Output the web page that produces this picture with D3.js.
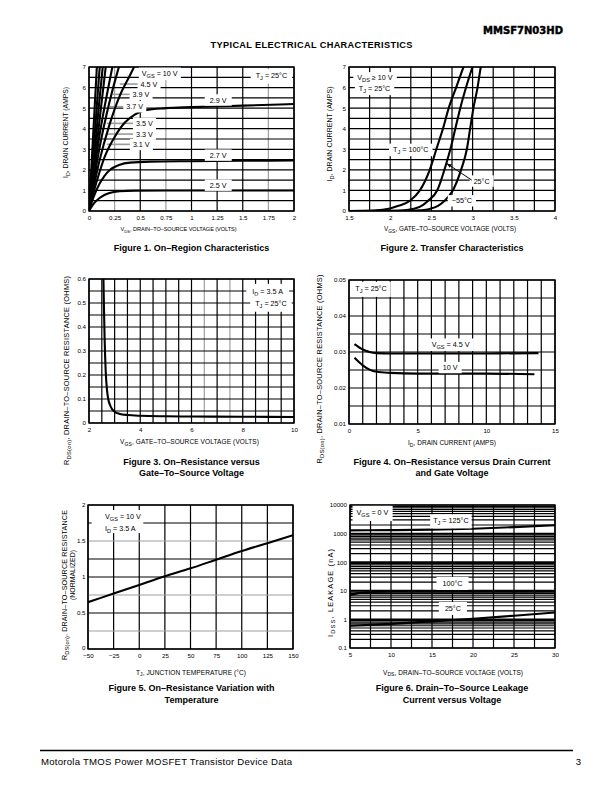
<!DOCTYPE html>
<html><head><meta charset="utf-8">
<script src="https://cdn.jsdelivr.net/npm/d3@7"></script>
<style>
body{margin:0;background:#fff}
svg{display:block}
</style></head><body>
<svg id="page" width="612" height="792" xmlns="http://www.w3.org/2000/svg"></svg>
<script>
// ================= DATA =================
// Figure 1 - On-Region Characteristics (VDS volts, ID amps)
const fig1XTicks = [0, 0.25, 0.5, 0.75, 1, 1.25, 1.5, 1.75, 2];
const fig1XTickLabels = ["0", "0.25", "0.5", "0.75", "1", "1.25", "1.5", "1.75", "2"];
const fig1YTicks = [0, 1, 2, 3, 4, 5, 6, 7];
const fig1Vgs10  = [[0,0],[0.08,7.3]];
const fig1Vgs45  = [[0,0],[0.1,6.7],[0.11,7.3]];
const fig1Vgs39  = [[0,0],[0.1,5.3],[0.14,7.3]];
const fig1Vgs37  = [[0,0],[0.1,4.3],[0.17,7.3]];
const fig1Vgs35  = [[0,0],[0.1,3.6],[0.2,6.3],[0.24,7.3]];
const fig1Vgs33  = [[0,0],[0.1,3.0],[0.2,5.3],[0.28,6.8],[0.31,7.3]];
const fig1Vgs31  = [[0,0],[0.1,2.4],[0.2,4.2],[0.3,5.6],[0.4,6.6],[0.47,7.3]];
const fig1Vgs29  = [[0,0],[0.05,1.0],[0.1,1.85],[0.15,2.6],[0.2,3.15],[0.25,3.6],[0.35,4.3],[0.45,4.7],[0.55,4.9],[0.75,5.0],[1,5.05],[1.5,5.12],[2,5.2]];
const fig1Vgs27  = [[0,0],[0.05,0.75],[0.1,1.3],[0.15,1.7],[0.2,1.98],[0.3,2.25],[0.4,2.35],[0.6,2.4],[1,2.42],[1.5,2.44],[2,2.46]];
const fig1Vgs25  = [[0,0],[0.05,0.38],[0.1,0.62],[0.15,0.78],[0.2,0.88],[0.3,0.96],[0.45,0.99],[0.75,1.0],[1.25,1.0],[2,1.0]];

// Figure 2 - Transfer Characteristics (VGS volts, ID amps)
const fig2XTicks = [1.5, 2, 2.5, 3, 3.5, 4];
const fig2XTickLabels = ["1.5", "2", "2.5", "3", "3.5", "4"];
const fig2YTicks = [0, 1, 2, 3, 4, 5, 6, 7];
const fig2Tj100 = [[1.5,0],[1.8,0.02],[2.0,0.12],[2.1,0.25],[2.24,0.5],[2.36,1.0],[2.48,2.0],[2.56,3.0],[2.64,4.0],[2.71,5.0],[2.8,6.0],[2.89,7.0],[2.92,7.3]];
const fig2Tj25  = [[1.5,0],[2.0,0.01],[2.2,0.05],[2.3,0.12],[2.4,0.3],[2.46,0.5],[2.57,1.0],[2.68,2.3],[2.73,3.0],[2.79,4.0],[2.85,5.0],[2.92,6.0],[3.0,7.0],[3.03,7.3]];
const fig2TjM55 = [[1.5,0],[2.2,0.0],[2.35,0.03],[2.48,0.1],[2.58,0.25],[2.66,0.5],[2.76,1.0],[2.86,2.0],[2.93,3.0],[2.97,4.0],[3.01,5.0],[3.06,6.0],[3.1,7.0],[3.12,7.3]];

// Figure 3 - RDS(on) vs VGS (VGS volts, ohms)
const fig3XTicks = [2, 4, 6, 8, 10];
const fig3YTicks = [0, 0.1, 0.2, 0.3, 0.4, 0.5, 0.6];
const fig3YTickLabels = ["0", "0.1", "0.2", "0.3", "0.4", "0.5", "0.6"];
const fig3Rds = [[2.56,0.62],[2.58,0.5],[2.61,0.35],[2.65,0.22],[2.7,0.14],[2.75,0.1],[2.82,0.075],[2.9,0.058],[3.0,0.047],[3.2,0.038],[3.5,0.033],[4,0.03],[5,0.028],[6,0.027],[8,0.026],[10,0.025]];

// Figure 4 - RDS(on) vs ID (amps, ohms)
const fig4XTicks = [0, 5, 10, 15];
const fig4YTicks = [0.01, 0.02, 0.03, 0.04, 0.05];
const fig4YTickLabels = ["0.01", "0.02", "0.03", "0.04", "0.05"];
const fig4Vgs45 = [[0.4,0.0322],[1,0.0307],[1.5,0.0300],[2,0.0297],[3,0.0296],[6,0.0296],[10,0.0296],[13.8,0.0297]];
const fig4Vgs10 = [[0.4,0.0284],[1,0.0263],[1.5,0.0251],[2,0.0245],[3,0.0242],[5,0.0240],[8,0.0240],[10,0.0240],[13.5,0.0238]];

// Figure 5 - normalized RDS(on) vs TJ (degC)
const fig5XTicks = [-50, -25, 0, 25, 50, 75, 100, 125, 150];
const fig5XTickLabels = ["\u221250", "\u221225", "0", "25", "50", "75", "100", "125", "150"];
const fig5YTicks = [0, 0.5, 1, 1.5, 2];
const fig5YTickLabels = ["0", "0.5", "1", "1.5", "2"];
const fig5Rnorm = [[-50,0.65],[-25,0.77],[0,0.89],[25,1.01],[50,1.12],[75,1.24],[100,1.36],[125,1.47],[150,1.58]];

// Figure 6 - IDSS leakage vs VDS (volts, nA)
const fig6XTicks = [5, 10, 15, 20, 25, 30];
const fig6YTicks = [0.1, 1, 10, 100, 1000, 10000];
const fig6YTickLabels = ["0.1", "1", "10", "100", "1000", "10000"];
const fig6Tj125 = [[5,1300],[10,1320],[15,1380],[20,1480],[25,1680],[30,1950]];
const fig6Tj100 = [[5,7.2],[6,8.3],[7.5,9.1],[10,9.4],[20,9.5],[30,9.6]];
const fig6Tj25  = [[5,0.6],[10,0.7],[15,0.85],[20,1.05],[25,1.35],[30,1.75]];

// ================= DRAWING =================
const FONT = "'Liberation Sans', Arial, Helvetica, sans-serif";
const LBL = 7.2; // in-plot label size
const svg = d3.select("#page");
svg.append("rect").attr("width", 612).attr("height", 792).attr("fill", "#fff");
const defs = svg.append("defs");
defs.append("marker").attr("id", "arr").attr("viewBox", "0 0 10 10").attr("refX", 9).attr("refY", 5)
  .attr("markerWidth", 5).attr("markerHeight", 5).attr("orient", "auto")
  .append("path").attr("d", "M0,1 L10,5 L0,9 z").attr("fill", "#000");

function rich(t, str, fs) {
  const parts = str.split(/(_\{[^}]*\})/).filter(s => s.length);
  let prevSub = false;
  parts.forEach(p => {
    const sub = p.startsWith("_{");
    const ts = t.append("tspan").text(sub ? p.slice(2, -1) : p);
    if (sub) ts.attr("font-size", fs * 0.78).attr("dy", fs * 0.3);
    else if (prevSub) ts.attr("dy", -fs * 0.3);
    prevSub = sub;
  });
}
function addText(g, o) {
  const fs = o.size || 6;
  const t = g.append("text").attr("font-family", o.family || FONT).attr("font-size", fs)
    .attr("font-weight", o.weight || "normal").attr("text-anchor", o.anchor || "middle").attr("fill", "#000");
  if (o.rotate) t.attr("transform", `translate(${o.x},${o.y}) rotate(-90)`);
  else t.attr("x", o.x).attr("y", o.y);
  rich(t, o.str, fs);
  if (o.len) t.attr("textLength", o.len).attr("lengthAdjust", o.adjust || "spacing");
  if (o.stroke) t.attr("stroke", "#000").attr("stroke-width", o.stroke);
  return t;
}

function chart(o) {
  const g = svg.append("g");
  const x = (o.xlog ? d3.scaleLog() : d3.scaleLinear()).domain(o.xd).range([o.x0, o.x1]);
  const y = (o.ylog ? d3.scaleLog() : d3.scaleLinear()).domain(o.yd).range([o.y1, o.y0]);
  const cid = "clip" + o.id;
  defs.append("clipPath").attr("id", cid).append("rect")
    .attr("x", o.x0).attr("y", o.y0).attr("width", o.x1 - o.x0).attr("height", o.y1 - o.y0);
  const grayX = o.grayX || [], grayY = o.grayY || [], majorY = o.majorY || [];
  g.append("g").selectAll("line").data(o.xgrid).join("line")
    .attr("x1", d => x(d)).attr("x2", d => x(d)).attr("y1", o.y0).attr("y2", o.y1)
    .attr("stroke", d => grayX.some(v => Math.abs(v - d) < 1e-9) ? "#a0a0a0" : "#000")
    .attr("stroke-width", 1.2);
  g.append("g").selectAll("line").data(o.ygrid).join("line")
    .attr("y1", d => y(d)).attr("y2", d => y(d)).attr("x1", o.x0).attr("x2", o.x1)
    .attr("stroke", d => grayY.some(v => Math.abs(v - d) < 1e-9) ? "#a0a0a0" : "#000")
    .attr("stroke-width", d => majorY.some(v => Math.abs(v / d - 1) < 1e-6) ? 1.9 : 1.2);
  g.append("rect").attr("x", o.x0).attr("y", o.y0).attr("width", o.x1 - o.x0).attr("height", o.y1 - o.y0)
    .attr("fill", "none").attr("stroke", "#000").attr("stroke-width", 1.4);
  // axes (labels only)
  const fmt = (vals, labs) => d => labs ? labs[vals.findIndex(v => Math.abs(v - d) < 1e-9)] : String(d);
  const ax = g.append("g").attr("transform", `translate(0,${o.y1})`)
    .call(d3.axisBottom(x).tickValues(o.xt).tickFormat(fmt(o.xt, o.xtl)).tickSize(0).tickPadding(o.xpad || 4.3));
  ax.select(".domain").remove();
  ax.attr("font-family", FONT).attr("font-size", 6.2);
  const ay = g.append("g").attr("transform", `translate(${o.x0},0)`)
    .call(d3.axisLeft(y).tickValues(o.yt).tickFormat(fmt(o.yt, o.ytl)).tickSize(0).tickPadding(o.ypad || 3));
  ay.select(".domain").remove();
  ay.attr("font-family", FONT).attr("font-size", 6.2);
  if (o.yLiftFirst) ay.selectAll(".tick text").filter((d, i) => i === 0).attr("dy", "0.05em");
  // leaders (gray)
  (o.leaders || []).forEach(l => {
    g.append("line").attr("x1", x(l[0])).attr("x2", x(l[1])).attr("y1", y(l[2])).attr("y2", y(l[2]))
      .attr("stroke", "#9a9a9a").attr("stroke-width", 1.6);
  });
  // curves
  const line = d3.line().x(d => x(d[0])).y(d => y(d[1])).curve(d3.curveMonotoneX);
  g.append("g").attr("clip-path", `url(#${cid})`).selectAll("path").data(o.curves).join("path")
    .attr("d", line).attr("fill", "none").attr("stroke", "#000").attr("stroke-width", o.cw || 2.1)
    .attr("stroke-linejoin", "round");
  // boxes
  (o.boxes || []).forEach(b => {
    g.append("rect").attr("x", x(b[0])).attr("y", y(b[3])).attr("width", x(b[1]) - x(b[0]))
      .attr("height", y(b[2]) - y(b[3])).attr("fill", "#fff");
  });
  // labels with white backgrounds
  (o.labels || []).forEach(l => {
    const fs = l.size || LBL;
    const t = addText(g, { x: x(l.x), y: y(l.y) + fs * 0.36, str: l.t, size: fs, anchor: l.anchor || "middle" });
    if (!l.nobox) {
      const bb = t.node().getBBox();
      const px = l.px != null ? l.px : 3, py = l.py != null ? l.py : 1.2;
      g.insert("rect", () => t.node()).attr("x", bb.x - px).attr("y", bb.y - py)
        .attr("width", bb.width + 2 * px).attr("height", bb.height + 2 * py).attr("fill", "#fff");
    }
  });
  // axis titles
  (o.ylabels || []).forEach(l => addText(g, { x: l.x, y: l.y, str: l.t, size: l.size || 6.8, rotate: true, len: l.len }));
  addText(g, { x: o.xlabel.x, y: o.xlabel.y, str: o.xlabel.t, size: o.xlabel.size || 6.4, len: o.xlabel.len });
  o.title.forEach((t, i) => addText(g, { x: o.title.cx, y: o.title.y + i * 11.6, str: t, size: 9, weight: "bold" }));
  return { x, y, g };
}
function titleArr(lines, cx, y) { const a = lines.slice(); a.cx = cx; a.y = y; return a; }

// ---------- Figure 1 ----------
chart({
  id: 1, x0: 89, x1: 294, y0: 67, y1: 211, xd: [0, 2], yd: [0, 7],
  xgrid: d3.range(0, 2.001, 0.25), ygrid: d3.range(0, 7.001, 0.5), grayX: [0.25, 0.75, 1.75],
  xt: fig1XTicks, xtl: fig1XTickLabels, yt: fig1YTicks,
  curves: [fig1Vgs10, fig1Vgs45, fig1Vgs39, fig1Vgs37, fig1Vgs35, fig1Vgs33, fig1Vgs31, fig1Vgs29, fig1Vgs27, fig1Vgs25],
  leaders: [[0.30,0.51,6.17],[0.234,0.43,5.67],[0.205,0.37,5.07],[0.173,0.465,4.26],[0.173,0.465,3.74],[0.173,0.46,3.24]],
  labels: [
    { t: "V_{GS} = 10 V", x: 0.69, y: 6.7 },
    { t: "4.5 V", x: 0.585, y: 6.17 },
    { t: "3.9 V", x: 0.507, y: 5.67 },
    { t: "3.7 V", x: 0.446, y: 5.07 },
    { t: "3.5 V", x: 0.54, y: 4.26 },
    { t: "3.3 V", x: 0.54, y: 3.74 },
    { t: "3.1 V", x: 0.51, y: 3.24 },
    { t: "2.9 V", x: 1.26, y: 5.4, px: 5 },
    { t: "2.7 V", x: 1.26, y: 2.72, px: 5 },
    { t: "2.5 V", x: 1.26, y: 1.26, px: 5 },
    { t: "T_{J} =  25°C", x: 1.78, y: 6.58, px: 5, py: 2.2 }
  ],
  ylabels: [{ t: "I_{D}, DRAIN CURRENT (AMPS)", x: 68.3, y: 132.4, len: 91, size: 6.8 }],
  xlabel: { t: "V_{DS}, DRAIN\u2013TO\u2013SOURCE VOLTAGE (VOLTS)", x: 178.5, y: 231, len: 116, size: 5.6 },
  title: titleArr(["Figure 1. On\u2013Region Characteristics"], 191.5, 251)
});

// ---------- Figure 2 ----------
const c2 = chart({
  id: 2, x0: 349, x1: 555, y0: 67, y1: 211, xd: [1.5, 4], yd: [0, 7],
  xgrid: d3.range(1.5, 4.001, 0.25), ygrid: d3.range(0, 7.001, 0.5),
  xt: fig2XTicks, xtl: fig2XTickLabels, yt: fig2YTicks,
  curves: [fig2Tj100, fig2Tj25, fig2TjM55],
  labels: [
    { t: "V_{DS} \u2265 10 V", x: 1.815, y: 6.48, px: 4 },
    { t: "T_{J} =  25°C", x: 1.81, y: 5.97, px: 4 },
    { t: "T_{J} = 100°C", x: 2.25, y: 3.0, px: 4 },
    { t: "25°C", x: 3.11, y: 1.46, px: 4 },
    { t: "\u221255°C", x: 2.87, y: 0.5, px: 4 }
  ],
  ylabels: [{ t: "I_{D}, DRAIN CURRENT (AMPS)", x: 332.3, y: 134, len: 95, size: 7 }],
  xlabel: { t: "V_{GS}, GATE\u2013TO\u2013SOURCE VOLTAGE (VOLTS)", x: 450, y: 231, len: 132, size: 6.3 },
  title: titleArr(["Figure 2. Transfer Characteristics"], 452, 251)
});
c2.g.append("line").attr("x1", c2.x(2.99)).attr("y1", c2.y(1.5)).attr("x2", c2.x(2.69)).attr("y2", c2.y(2.3))
  .attr("stroke", "#000").attr("stroke-width", 1).attr("marker-end", "url(#arr)");

// ---------- Figure 3 ----------
chart({
  id: 3, x0: 89, x1: 294, y0: 279, y1: 423, xd: [2, 10], yd: [0, 0.6],
  xgrid: d3.range(2, 10.001, 0.5), ygrid: d3.range(0, 0.6001, 0.05), grayX: [6.5, 7.5],
  xt: fig3XTicks, yt: fig3YTicks, ytl: fig3YTickLabels, xpad: 5,
  curves: [fig3Rds],
  labels: [
    { t: "I_{D} = 3.5 A", x: 8.97, y: 0.549, px: 6, py: 3 },
    { t: "T_{J} =  25°C", x: 9.1, y: 0.5, px: 5, py: 3 }
  ],
  ylabels: [{ t: "R_{DS(on)}, DRAIN\u2013TO\u2013SOURCE RESISTANCE (OHMS)", x: 68.5, y: 370.5, len: 189, size: 7.4 }],
  xlabel: { t: "V_{GS}, GATE\u2013TO\u2013SOURCE VOLTAGE (VOLTS)", x: 189.5, y: 444, len: 139, size: 6.5 },
  title: titleArr(["Figure 3. On\u2013Resistance versus", "Gate\u2013To\u2013Source Voltage"], 191.5, 464.5)
});

// ---------- Figure 4 ----------
chart({
  id: 4, x0: 349, x1: 555, y0: 280, y1: 424, xd: [0, 15], yd: [0.01, 0.05],
  xgrid: d3.range(0, 15.001, 1), ygrid: d3.range(0.01, 0.05001, 0.005),
  xt: fig4XTicks, yt: fig4YTicks, ytl: fig4YTickLabels, xpad: 5,
  curves: [fig4Vgs45, fig4Vgs10],
  labels: [
    { t: "T_{J} =  25°C", x: 1.6, y: 0.0476, px: 4, py: 2.5 },
    { t: "V_{GS} = 4.5 V", x: 7.4, y: 0.0322, px: 4 },
    { t: "10 V", x: 7.36, y: 0.0257, px: 4 }
  ],
  ylabels: [{ t: "R_{DS(on)}, DRAIN\u2013TO\u2013SOURCE RESISTANCE (OHMS)", x: 321.5, y: 369, len: 189, size: 7.4 }],
  xlabel: { t: "I_{D}, DRAIN CURRENT (AMPS)", x: 452, y: 445, len: 88, size: 6.5 },
  title: titleArr(["Figure 4. On\u2013Resistance versus Drain Current", "and Gate Voltage"], 452, 464.5)
});

// ---------- Figure 5 ----------
chart({
  id: 5, x0: 88, x1: 293, y0: 505, y1: 649, xd: [-50, 150], yd: [0, 2],
  xgrid: d3.range(-50, 150.001, 25), ygrid: d3.range(0, 2.001, 0.25), grayY: [0.25, 0.75, 1.5],
  xt: fig5XTicks, xtl: fig5XTickLabels, yt: fig5YTicks, ytl: fig5YTickLabels, xpad: 4.2, ypad: 2.5, yLiftFirst: true,
  curves: [fig5Rnorm],
  boxes: [[-46.5, 3.9, 1.61, 1.93]],
  labels: [
    { t: "V_{GS} = 10 V", x: -33.4, y: 1.84, anchor: "start", nobox: true },
    { t: "I_{D} = 3.5 A", x: -33.4, y: 1.68, anchor: "start", nobox: true }
  ],
  ylabels: [
    { t: "R_{DS(on)}, DRAIN\u2013TO\u2013SOURCE RESISTANCE", x: 66.5, y: 585, len: 150, size: 7.2 },
    { t: "(NORMALIZED)", x: 75, y: 575, len: 50, size: 6.9 }
  ],
  xlabel: { t: "T_{J}, JUNCTION TEMPERATURE (°C)", x: 191, y: 674.5, len: 110, size: 6.6 },
  title: titleArr(["Figure 5. On\u2013Resistance Variation with", "Temperature"], 191.5, 691)
});

// ---------- Figure 6 ----------
const fig6Grid = [];
[0.1, 1, 10, 100, 1000].forEach(d => { for (let k = 1; k <= 9; k++) fig6Grid.push(d * k); });
fig6Grid.push(10000);
chart({
  id: 6, x0: 350, x1: 555, y0: 505, y1: 648, xd: [5, 30], yd: [0.1, 10000], ylog: true,
  xgrid: d3.range(5, 30.001, 2.5), ygrid: fig6Grid, majorY: [1, 10, 100, 1000],
  xt: fig6XTicks, yt: fig6YTicks, ytl: fig6YTickLabels, xpad: 4.3,
  curves: [fig6Tj125, fig6Tj100, fig6Tj25],
  labels: [
    { t: "V_{GS} = 0 V", x: 7.74, y: 5377, px: 4, py: 2.5 },
    { t: "T_{J} = 125°C", x: 17.3, y: 2825, px: 3, py: 2 },
    { t: "100°C", x: 17.5, y: 18.3, px: 6, py: 2 },
    { t: "25°C", x: 17.55, y: 2.44, px: 6, py: 2 }
  ],
  ylabels: [{ t: "I_{DSS}, LEAKAGE (nA)", x: 332.5, y: 593, len: 88, size: 7.4 }],
  xlabel: { t: "V_{DS}, DRAIN\u2013TO\u2013SOURCE VOLTAGE (VOLTS)", x: 453, y: 674.5, len: 140, size: 6.5 },
  title: titleArr(["Figure 6. Drain\u2013To\u2013Source Leakage", "Current versus Voltage"], 452, 691)
});

// ---------- Page header / footer ----------
addText(svg, { x: 563, y: 33.8, str: "MMSF7N03HD", size: 10, weight: "bold", anchor: "end", family: "'DejaVu Sans', sans-serif", len: 80, stroke: 0.45 });
addText(svg, { x: 311.5, y: 48, str: "TYPICAL ELECTRICAL CHARACTERISTICS", size: 9.2, weight: "bold", len: 202 });
svg.append("line").attr("x1", 40).attr("x2", 573).attr("y1", 750.5).attr("y2", 750.5).attr("stroke", "#000").attr("stroke-width", 1.6);
addText(svg, { x: 41, y: 765, str: "Motorola TMOS Power MOSFET Transistor Device Data", size: 9.6, anchor: "start", len: 251 });
addText(svg, { x: 581, y: 765, str: "3", size: 9.6, anchor: "end" });
</script>
</body></html>
